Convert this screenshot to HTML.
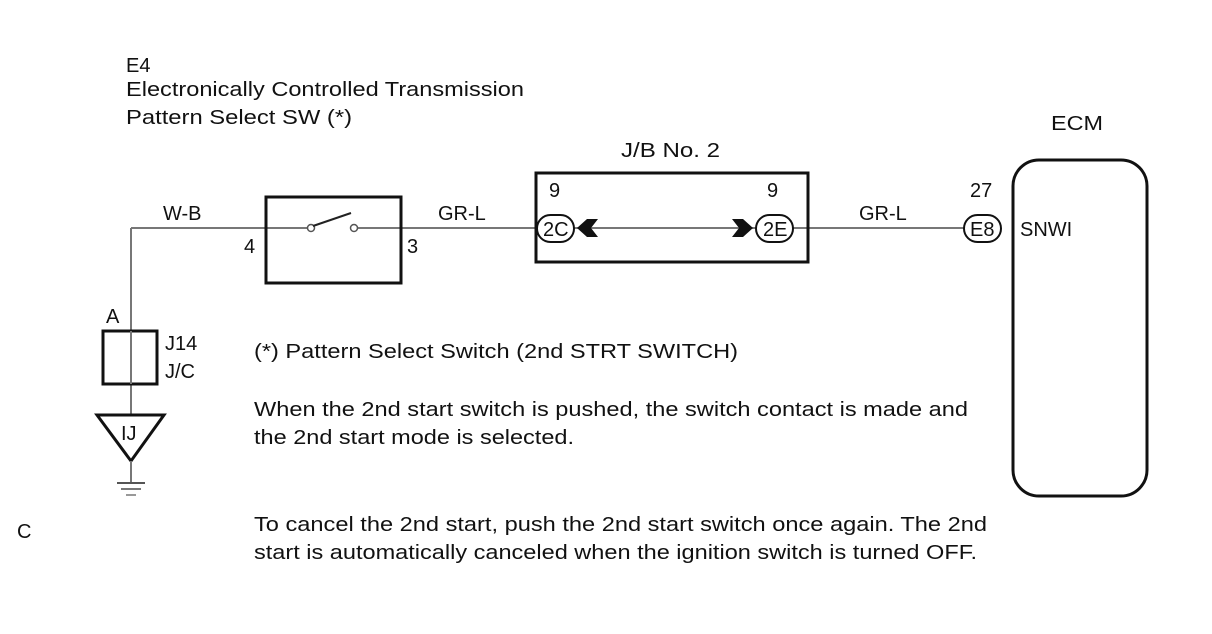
<!DOCTYPE html>
<html><head><meta charset="utf-8"><style>
html,body{margin:0;padding:0;background:#fff;}
svg{display:block;}
text{font-family:"Liberation Sans",sans-serif;font-size:20px;fill:#111;}
</style></head><body>
<svg width="1212" height="634" viewBox="0 0 1212 634" xmlns="http://www.w3.org/2000/svg">
<rect width="1212" height="634" fill="#fff"/>
<text x="126" y="72">E4</text>
<text x="126" y="96" textLength="398" lengthAdjust="spacingAndGlyphs">Electronically Controlled Transmission</text>
<text x="126" y="124" textLength="226" lengthAdjust="spacingAndGlyphs">Pattern Select SW (*)</text>
<text x="1051" y="130" textLength="52" lengthAdjust="spacingAndGlyphs">ECM</text>
<text x="621" y="157" textLength="99" lengthAdjust="spacingAndGlyphs">J/B No. 2</text>

<g stroke="#777" stroke-width="2" fill="none">
<line x1="131" y1="228" x2="311" y2="228"/>
<line x1="357" y1="228" x2="964" y2="228"/>
<line x1="131" y1="228" x2="131" y2="483"/>
</g>
<rect x="266" y="197" width="135" height="86" fill="none" stroke="#111" stroke-width="3"/>
<circle cx="311" cy="228" r="3.5" fill="#fff" stroke="#555" stroke-width="1.5"/>
<circle cx="354" cy="228" r="3.5" fill="#fff" stroke="#555" stroke-width="1.5"/>
<line x1="313" y1="226" x2="351" y2="213" stroke="#222" stroke-width="2"/>
<text x="244" y="253">4</text>
<text x="407" y="253">3</text>
<text x="163" y="220">W-B</text>
<text x="438" y="220">GR-L</text>
<text x="859" y="220">GR-L</text>

<rect x="536" y="173" width="272" height="89" fill="none" stroke="#111" stroke-width="3"/>
<rect x="537" y="215" width="37" height="27" rx="13.5" fill="#fff" stroke="#111" stroke-width="2"/>
<text x="543" y="236" font-size="18">2C</text>
<text x="549" y="197">9</text>
<polygon points="577,228 587,219 598,219 591,228 598,237 587,237" fill="#111"/>
<polygon points="753,228 743,219 732,219 739,228 732,237 743,237" fill="#111"/>
<rect x="756" y="215" width="37" height="27" rx="13.5" fill="#fff" stroke="#111" stroke-width="2"/>
<text x="763" y="236" font-size="18">2E</text>
<text x="767" y="197">9</text>

<rect x="964" y="215" width="37" height="27" rx="13.5" fill="#fff" stroke="#111" stroke-width="2"/>
<text x="970" y="236" font-size="18">E8</text>
<text x="970" y="197">27</text>
<text x="1020" y="236">SNWI</text>
<rect x="1013" y="160" width="134" height="336" rx="26" fill="none" stroke="#111" stroke-width="3"/>

<text x="106" y="323">A</text>
<rect x="103" y="331" width="54" height="53" fill="none" stroke="#111" stroke-width="3"/>
<line x1="131" y1="331" x2="131" y2="384" stroke="#777" stroke-width="2"/>
<text x="165" y="350" font-size="18">J14</text>
<text x="165" y="378" font-size="18">J/C</text>
<polygon points="97,415 164,415 131,461" fill="#fff" stroke="#111" stroke-width="3"/>
<text x="121" y="440" font-size="18">IJ</text>
<line x1="131" y1="461" x2="131" y2="483" stroke="#777" stroke-width="2"/>
<line x1="117" y1="483" x2="145" y2="483" stroke="#555" stroke-width="2"/>
<line x1="121" y1="489" x2="141" y2="489" stroke="#777" stroke-width="2"/>
<line x1="126" y1="495" x2="136" y2="495" stroke="#999" stroke-width="2"/>

<text x="254" y="358" textLength="484" lengthAdjust="spacingAndGlyphs">(*) Pattern Select Switch (2nd STRT SWITCH)</text>
<text x="254" y="416" textLength="714" lengthAdjust="spacingAndGlyphs">When the 2nd start switch is pushed, the switch contact is made and</text>
<text x="254" y="444" textLength="320" lengthAdjust="spacingAndGlyphs">the 2nd start mode is selected.</text>
<text x="254" y="531" textLength="733" lengthAdjust="spacingAndGlyphs">To cancel the 2nd start, push the 2nd start switch once again. The 2nd</text>
<text x="254" y="559" textLength="723" lengthAdjust="spacingAndGlyphs">start is automatically canceled when the ignition switch is turned OFF.</text>
<text x="17" y="538" font-size="17">C</text>
</svg>
</body></html>
